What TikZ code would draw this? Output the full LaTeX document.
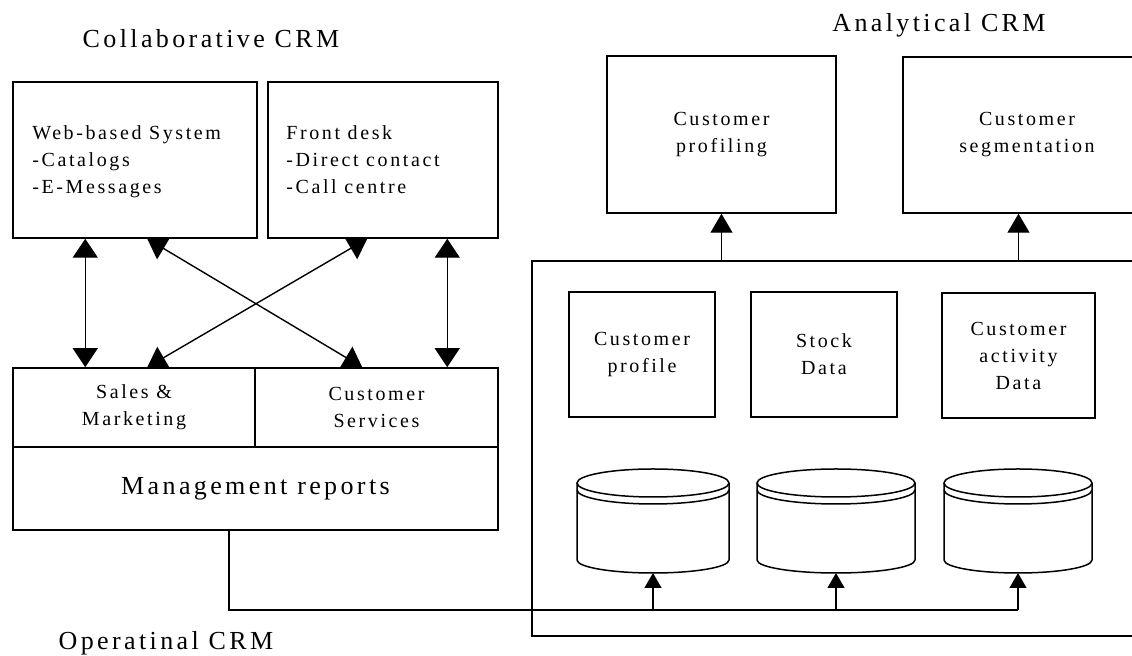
\documentclass[tikz,border=0pt]{standalone}
\usepackage{fontspec}
\setmainfont{Liberation Serif}[LetterSpace=13]
\usetikzlibrary{arrows.meta}

\tikzset{
    box/.style={draw, line width=0.75pt, inner sep=0pt},
    txt/.style={font=\fontsize{10}{13.5}\selectfont, align=center, inner sep=0pt},
    title/.style={font=\fontsize{13}{16}\selectfont, inner sep=0pt},
    bigarrow/.style={line width=0.7pt,
        {Triangle[width=12.5pt,length=9.5pt]}-{Triangle[width=12.5pt,length=9.5pt]}},
    uparrow/.style={line width=0.6pt, -{Triangle[width=11pt,length=9.5pt]}},
    smallarrow/.style={line width=0.6pt, -{Triangle[width=8.5pt,length=7.5pt]}},
    bus/.style={line width=1pt}
}

\begin{document}
\begin{tikzpicture}[x=0.5pt, y=-0.5pt]
    \useasboundingbox (0,0) rectangle (1132,656);

    \node[title] (collab) at (211,39) {Collaborative CRM};
    \node[title] (analyt) at (939,25) {Analytical CRM};
    \node[title] (oper) at (166,643) {Operatinal CRM};

    \node[box, minimum width=122pt, minimum height=78pt] (web) at (135,160) {};
    \node[box, minimum width=115pt, minimum height=78pt] (desk) at (383,160) {};
    \node[txt, align=left, anchor=north west] (webtxt) at (32,125)
        {Web-based System\\-Catalogs\\-E-Messages};
    \node[txt, align=left, anchor=north west] (desktxt) at (286,125)
        {Front desk\\-Direct contact\\-Call centre};

    \node[box, txt, minimum width=121pt, minimum height=39.5pt] (sales) at (134,407.5)
        {Sales \&\\Marketing};
    \node[box, txt, minimum width=121.5pt, minimum height=39.5pt] (service) at (376.5,407.5)
        {Customer\\Services};
    \node[box, title, minimum width=242.5pt, minimum height=41.5pt] (mgmt) at (255.5,488.5)
        {Management reports};

    \draw[bigarrow] ([shift={(73,0)}]web.south west) -- ([shift={(73,0)}]sales.north west);
    \draw[bigarrow] ([shift={(135,0)}]web.south west) -- ([shift={(108,0)}]service.north west);
    \draw[bigarrow] ([shift={(100,0)}]desk.south west) -- ([shift={(135,0)}]sales.north west);
    \draw[bigarrow] ([shift={(180,0)}]desk.south west) -- ([shift={(193,0)}]service.north west);

    \node[box, txt, minimum width=114.5pt, minimum height=78.5pt] (profiling) at (721.5,134.5)
        {Customer\\profiling};
    \node[box, txt, minimum width=124pt, minimum height=78pt] (segment) at (1027,135)
        {Customer\\segmentation};

    \node[box, line width=1.2pt, minimum width=309pt, minimum height=187.5pt] (frame) at (841,448.5) {};

    \node[box, txt, minimum width=73pt, minimum height=62.5pt] (profile) at (642,354.5)
        {Customer\\profile};
    \node[box, txt, minimum width=73pt, minimum height=62.5pt] (stock) at (824,354.5)
        {Stock\\Data};
    \node[box, txt, minimum width=76.5pt, minimum height=62.5pt] (activity) at (1018.5,355.5)
        {Customer\\activity\\Data};

    \draw[uparrow] (frame.north -| profiling.south) -- (profiling.south);
    \draw[uparrow] (activity.north |- frame.north) -- (activity.north |- segment.south);

    \foreach \n/\cx/\rx in {1/653/38pt, 2/836/39.5pt, 3/1018/37pt} {
        \draw[box] ([xshift=-\rx]\cx,483) -- ([xshift=-\rx]\cx,560)
            arc[start angle=180, end angle=360, x radius=\rx, y radius=6.5pt]
            -- ([xshift=\rx]\cx,483);
        \draw[box] (\cx,483) ellipse[x radius=\rx, y radius=7pt];
        \draw[box] ([xshift=-\rx]\cx,490)
            arc[start angle=180, end angle=360, x radius=\rx, y radius=7pt];
        \coordinate (db\n) at (\cx,573);
        \coordinate (bus\n) at (\cx,610);
    }

    \draw[bus] ([shift={(217,0)}]mgmt.south west) |- (bus3);
    \foreach \n in {1,2,3}
        \draw[smallarrow] (bus\n) -- (db\n);
\end{tikzpicture}
\end{document}
